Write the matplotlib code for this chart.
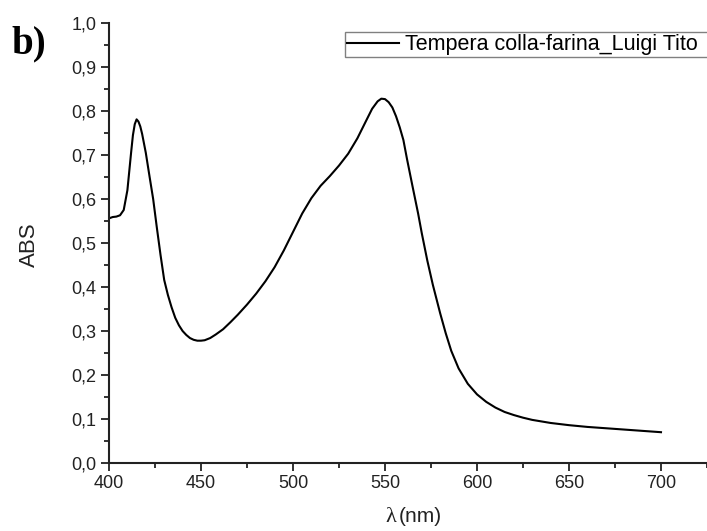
import matplotlib
matplotlib.use("Agg")
import matplotlib.pyplot as plt
from matplotlib.ticker import MultipleLocator, FuncFormatter

# Absorption spectrum (wavelength in nm, absorbance)
wavelength = [400, 402, 404, 406, 408, 410, 412, 413, 414, 415, 416, 417, 418,
              420, 422, 424, 426, 428, 430, 432, 434, 436, 438, 440, 442, 444,
              446, 448, 450, 452, 455, 458, 462, 466, 470, 475, 480, 485, 490,
              495, 500, 505, 510, 515, 520, 525, 530, 535, 540, 543, 546, 548,
              550, 552, 554, 556, 558, 560, 562, 565, 568, 570, 573, 576, 580,
              583, 586, 590, 595, 600, 605, 610, 615, 620, 625, 630, 640, 650,
              660, 670, 680, 690, 700]
absorbance = [0.556, 0.559, 0.560, 0.563, 0.575, 0.620, 0.705, 0.745, 0.770, 0.781,
              0.776, 0.765, 0.748, 0.705, 0.652, 0.600, 0.535, 0.473, 0.416, 0.382,
              0.354, 0.330, 0.313, 0.300, 0.291, 0.284, 0.280, 0.278, 0.278, 0.279,
              0.284, 0.292, 0.304, 0.320, 0.337, 0.360, 0.385, 0.413, 0.445, 0.483,
              0.525, 0.567, 0.602, 0.630, 0.652, 0.676, 0.703, 0.738, 0.780, 0.805,
              0.822, 0.828, 0.827, 0.820, 0.808, 0.788, 0.763, 0.734, 0.690, 0.628,
              0.567, 0.522, 0.460, 0.405, 0.340, 0.295, 0.255, 0.215, 0.180, 0.156,
              0.139, 0.126, 0.116, 0.109, 0.103, 0.098, 0.091, 0.086, 0.082, 0.079,
              0.076, 0.073, 0.070]
series_label = "Tempera colla-farina_Luigi Tito"
panel_label = "b)"

W, H = 707, 531
fig = plt.figure(figsize=(W / 100, H / 100), dpi=100)
sans = "Liberation Sans"
serif = "Liberation Serif"

left, right, top, bottom = 109, 707, 23, 463
ax = fig.add_axes([left / W, 1 - bottom / H, (right - left) / W, (bottom - top) / H])
ax.plot(wavelength, absorbance, color="black", lw=1.5, label=series_label + "   ")

ax.set_xlim(400, 400 + (right - left) / 92 * 50)
ax.set_ylim(0, 1.0)
ax.xaxis.set_major_locator(MultipleLocator(50))
ax.xaxis.set_minor_locator(MultipleLocator(25))
ax.yaxis.set_major_locator(MultipleLocator(0.1))
ax.yaxis.set_minor_locator(MultipleLocator(0.05))
ax.yaxis.set_major_formatter(FuncFormatter(lambda v, p: f"{v:.1f}".replace(".", ",")))

for s in ("top", "right"):
    ax.spines[s].set_visible(False)
for s in ("left", "bottom"):
    ax.spines[s].set_linewidth(1.5)
    ax.spines[s].set_color("#222222")
ax.tick_params(which="major", direction="out", length=6, width=1.3, color="#222222",
               labelsize=13, labelcolor="#222222", pad=3)
ax.tick_params(which="minor", direction="out", length=3.5, width=1.3, color="#222222")
for lbl in ax.get_xticklabels() + ax.get_yticklabels():
    lbl.set_fontfamily(sans)

# axis titles
fig.text(29 / W, 1 - 245 / H, "ABS", rotation=90, ha="center", va="center",
         fontsize=16, family=sans, color="#222222")
fig.text(396 / W, 1 - 517 / H, "λ", ha="right", va="center", fontsize=16,
         family=serif, color="#222222")
fig.text(399 / W, 1 - 517 / H, "(nm)", ha="left", va="center", fontsize=15,
         family=sans, color="#222222")

# panel tag
fig.text(11 / W, 1 - 44 / H, panel_label, ha="left", va="center", fontsize=28,
         fontweight="bold", family=serif)

leg = ax.legend(loc="upper left", bbox_to_anchor=(345 / W, 1 - 32 / H),
                bbox_transform=fig.transFigure, frameon=True, fancybox=False,
                edgecolor="#808080", framealpha=1, borderpad=0.1,
                handlelength=2.4, handletextpad=0.3, borderaxespad=0,
                prop={"family": sans, "size": 15.5})
leg.get_frame().set_linewidth(1.0)

fig.savefig("out.png", dpi=100)
